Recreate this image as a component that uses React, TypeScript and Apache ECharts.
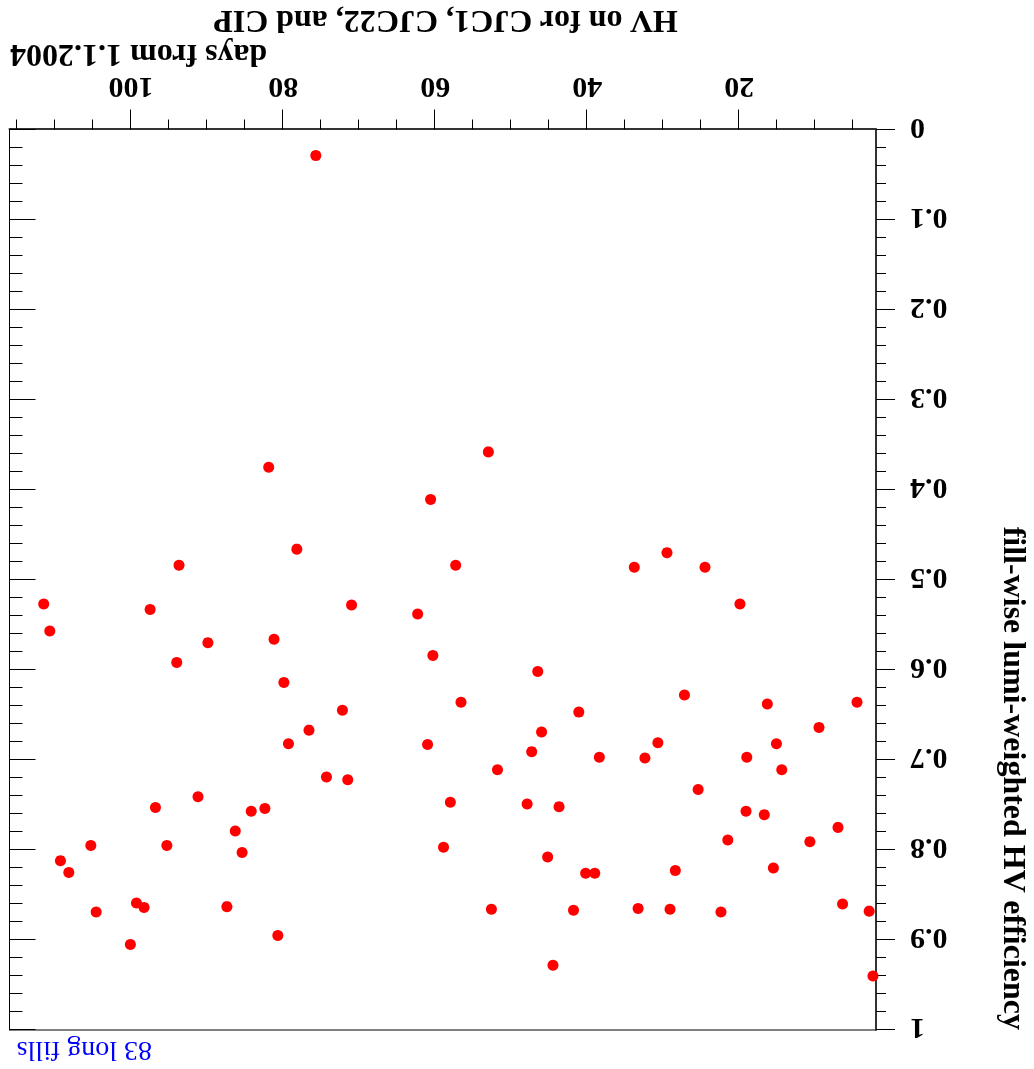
import React, { useEffect, useRef } from "react";
import * as echarts from "echarts";

// days from 1.1.2004 for each long fill
const days = [
  81.9, 78.2, 93.7, 75.7, 53.0, 60.6, 57.3, 29.5, 33.8, 24.5,
  111.5, 97.5, 110.7, 89.9, 81.2, 94.0, 79.9, 79.3, 91.2, 96.8,
  84.2, 82.4, 86.3, 105.3, 95.3, 85.4, 109.3, 108.2, 99.3, 98.3,
  104.6, 87.4, 100.1, 80.7, 71.0, 62.3, 60.3, 46.5, 56.6, 41.1,
  72.2, 76.6, 61.0, 46.0, 47.3, 51.8, 74.3, 71.5, 58.0, 47.9,
  43.7, 58.9, 45.2, 40.2, 39.0, 52.6, 41.8, 44.5, 19.9, 27.2,
  16.3, 4.5, 9.5, 30.7, 15.1, 38.4, 32.4, 19.0, 14.4, 25.4,
  19.1, 16.7, 21.5, 10.7, 7.0, 28.4, 15.5, 33.3, 29.1, 22.4,
  6.4, 2.9, 2.4,
];

// fill-wise lumi-weighted HV efficiency for each fill
const efficiency = [
  0.375, 0.466, 0.484, 0.029, 0.358, 0.411, 0.484, 0.470, 0.486, 0.486,
  0.527, 0.533, 0.557, 0.570, 0.566, 0.592, 0.614, 0.682, 0.741, 0.753,
  0.757, 0.754, 0.779, 0.795, 0.795, 0.803, 0.812, 0.825, 0.859, 0.864,
  0.869, 0.863, 0.905, 0.895, 0.528, 0.538, 0.584, 0.602, 0.636, 0.647,
  0.645, 0.667, 0.683, 0.669, 0.691, 0.711, 0.719, 0.722, 0.747, 0.749,
  0.752, 0.797, 0.808, 0.826, 0.826, 0.866, 0.867, 0.928, 0.527, 0.628,
  0.638, 0.636, 0.664, 0.681, 0.682, 0.697, 0.698, 0.697, 0.711, 0.733,
  0.757, 0.761, 0.789, 0.791, 0.775, 0.823, 0.820, 0.865, 0.866, 0.869,
  0.860, 0.868, 0.940,
];

const xTickValues = [20, 40, 60, 80, 100];
const titleText = "HV on for CJC1, CJC22, and CIP";
const xTitleText = "days from 1.1.2004";
const yTitleText = "fill-wise lumi-weighted HV efficiency";
const noteText = "83 long fills";

const W = 1034;
const H = 1069;
const SERIF = '"Liberation Serif", "Times New Roman", serif';

export default function App() {
  const ref = useRef<HTMLDivElement>(null);

  useEffect(() => {
    if (!ref.current) return;
    const chart = echarts.init(ref.current, null, { renderer: "svg" });
    const points = days.map((d, i) => [d, efficiency[i]]);

    const labelStyle = {
      fontFamily: SERIF,
      fontWeight: "bold" as const,
      fontSize: 30,
      color: "#000",
    };

    chart.setOption({
      animation: false,
      backgroundColor: "#fff",
      grid: {
        left: 158,
        right: 9.5,
        top: 39,
        bottom: 129.5,
        show: true,
        borderColor: "#000",
        borderWidth: 1,
        backgroundColor: "transparent",
      },
      xAxis: [
        {
          type: "value",
          position: "bottom",
          min: 2,
          max: 116,
          splitNumber: 5,
          axisLine: { show: true, onZero: false, lineStyle: { color: "#333", width: 2 } },
          axisTick: {
            show: true,
            inside: false,
            length: 20,
            customValues: xTickValues,
            lineStyle: { color: "#000", width: 1 },
          },
          minorTick: { show: true, splitNumber: 4, length: 10, lineStyle: { color: "#000", width: 1 } },
          axisLabel: { show: true, customValues: xTickValues, margin: 26, ...labelStyle },
          splitLine: { show: false },
          minorSplitLine: { show: false },
        },
      ],
      yAxis: [
        {
          type: "value",
          position: "left",
          min: 0,
          max: 1,
          interval: 0.1,
          axisLine: { show: true, onZero: false, lineStyle: { color: "#333", width: 2 } },
          axisTick: { show: true, inside: false, length: 19, lineStyle: { color: "#000", width: 1 } },
          minorTick: { show: true, splitNumber: 5, length: 10, lineStyle: { color: "#000", width: 1 } },
          axisLabel: { show: true, margin: 34, ...labelStyle },
          splitLine: { show: false },
          minorSplitLine: { show: false },
        },
        {
          type: "value",
          position: "right",
          min: 0,
          max: 1,
          interval: 0.1,
          axisLine: { show: true, onZero: false, lineStyle: { color: "#000", width: 1 } },
          axisTick: { show: true, inside: true, length: 26, lineStyle: { color: "#000", width: 1 } },
          minorTick: { show: true, splitNumber: 5, length: 13, lineStyle: { color: "#000", width: 1 } },
          axisLabel: { show: false },
          splitLine: { show: false },
          minorSplitLine: { show: false },
        },
      ],
      series: [
        {
          type: "scatter",
          xAxisIndex: 0,
          yAxisIndex: 0,
          data: points,
          symbol: "circle",
          symbolSize: 11,
          clip: false,
          itemStyle: { color: "#ff0000", opacity: 1 },
        },
      ],
      graphic: [
        {
          type: "text",
          x: 588.5,
          y: 1047,
          style: {
            text: titleText,
            font: `bold 32px ${SERIF}`,
            fill: "#000",
            align: "center",
            verticalAlign: "middle",
          },
        },
        {
          type: "text",
          x: 1024,
          y: 1013,
          style: {
            text: xTitleText,
            font: `bold 32px ${SERIF}`,
            fill: "#000",
            align: "right",
            verticalAlign: "middle",
          },
        },
        {
          type: "text",
          x: 19,
          y: 39,
          rotation: Math.PI / 2,
          style: {
            text: yTitleText,
            font: `bold 32px ${SERIF}`,
            fill: "#000",
            align: "right",
            verticalAlign: "middle",
          },
        },
        {
          type: "text",
          x: 882,
          y: 17.5,
          style: {
            text: noteText,
            font: `28px ${SERIF}`,
            fill: "#0000ff",
            align: "left",
            verticalAlign: "middle",
          },
        },
      ],
    });

    return () => chart.dispose();
  }, []);

  return (
    <div
      ref={ref}
      style={{
        position: "fixed",
        left: 0,
        top: 0,
        width: W,
        height: H,
        transform: "rotate(180deg)",
        background: "#fff",
      }}
    />
  );
}
